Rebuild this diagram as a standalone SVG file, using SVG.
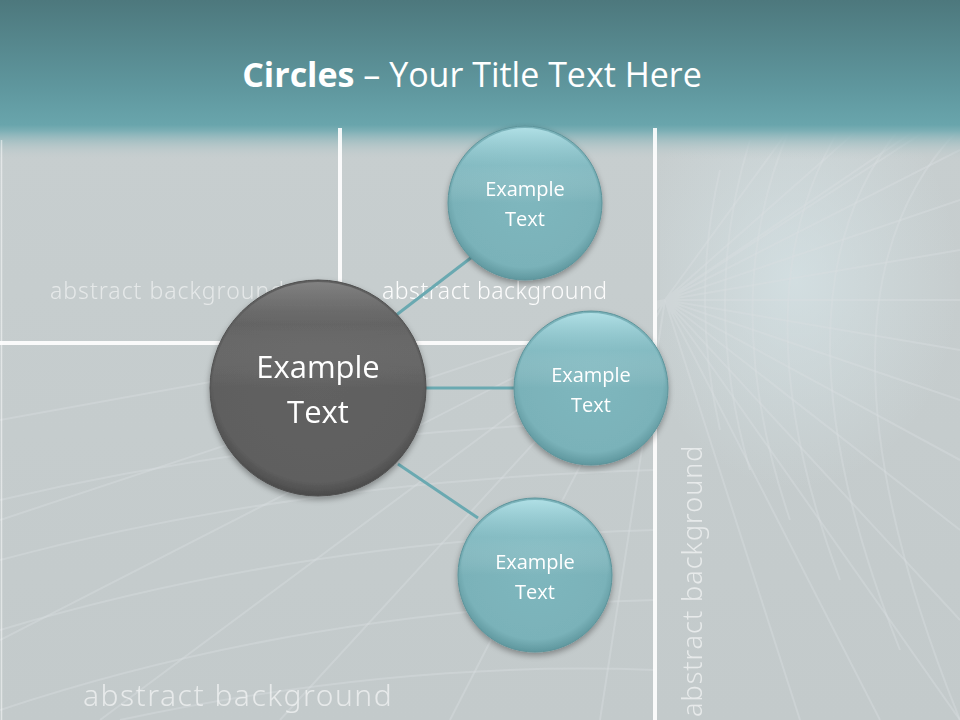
<svg xmlns="http://www.w3.org/2000/svg" width="960" height="720" viewBox="0 0 960 720">
<defs>
<linearGradient id="bg" x1="0" y1="0" x2="0" y2="1">
<stop offset="0" stop-color="#c8cfd0"/>
<stop offset="1" stop-color="#c3cacb"/>
</linearGradient>
<linearGradient id="hdr" x1="0" y1="0" x2="0" y2="1">
<stop offset="0" stop-color="#4d787d"/>
<stop offset="0.55" stop-color="#5f979e"/>
<stop offset="0.78" stop-color="#69a5ac"/>
<stop offset="0.82" stop-color="#7eb0b6"/>
<stop offset="1" stop-color="#c5cdce" stop-opacity="0"/>
</linearGradient>
<radialGradient id="teal" cx="0.5" cy="0.45" r="0.55">
<stop offset="0" stop-color="#7fb7be"/>
<stop offset="0.85" stop-color="#7ab2b9"/>
<stop offset="1" stop-color="#5f979e"/>
</radialGradient>
<linearGradient id="tealHi" x1="0" y1="0" x2="0" y2="1">
<stop offset="0" stop-color="#b5e4ea" stop-opacity="0.9"/>
<stop offset="0.25" stop-color="#9dd0d7" stop-opacity="0.3"/>
<stop offset="0.5" stop-color="#ffffff" stop-opacity="0"/>
</linearGradient>
<radialGradient id="dark" cx="0.5" cy="0.45" r="0.55">
<stop offset="0" stop-color="#626262"/>
<stop offset="0.88" stop-color="#5f5f5f"/>
<stop offset="1" stop-color="#4a4a4a"/>
</radialGradient>
<linearGradient id="darkHi" x1="0" y1="0" x2="0" y2="1">
<stop offset="0" stop-color="#8a8a8a" stop-opacity="0.8"/>
<stop offset="0.2" stop-color="#777" stop-opacity="0.2"/>
<stop offset="0.5" stop-color="#fff" stop-opacity="0"/>
</linearGradient>
<filter id="sh" x="-20%" y="-20%" width="140%" height="140%">
<feGaussianBlur in="SourceAlpha" stdDeviation="3"/>
<feOffset dy="3"/>
<feComponentTransfer><feFuncA type="linear" slope="0.35"/></feComponentTransfer>
<feMerge><feMergeNode/><feMergeNode in="SourceGraphic"/></feMerge>
</filter>
<clipPath id="gridClip"><rect x="0" y="345" width="960" height="375"/><rect x="655" y="128" width="305" height="592"/></clipPath>
<radialGradient id="glow" cx="0.45" cy="0.4" r="0.55">
<stop offset="0" stop-color="#dcecf0" stop-opacity="0.55"/>
<stop offset="1" stop-color="#dcecf0" stop-opacity="0"/>
</radialGradient>
</defs>
<style>
.abs{font-family:"Noto Sans","DejaVu Sans",sans-serif;font-weight:300;fill:#ffffff;}
.lbl{font-family:"Open Sans","Noto Sans",sans-serif;fill:#ffffff;text-anchor:middle;}
.wl{stroke:#ffffff;stroke-width:4;fill:none;opacity:0.9;}
.grid{stroke:#dadfe0;stroke-width:2;fill:none;opacity:0.4;}
.conn{stroke:#6aa9b1;stroke-width:3;fill:none;}
</style>

<rect width="960" height="720" fill="url(#bg)"/>
<rect x="660" y="128" width="300" height="380" fill="url(#glow)"/>

<g id="background-grid" clip-path="url(#gridClip)">
<path class="grid" d="M665 300 L960 150 M665 300 L960 200 M665 300 L960 250 M665 300 L960 300 M665 300 L960 350 M665 300 L960 400 M665 300 L960 460 M665 300 L960 530 M665 300 L960 620 M665 300 L960 720 M665 300 L880 720 M665 300 L800 720 M665 300 L960 100 M665 300 L930 128 M665 300 L860 128 M665 300 L790 128"/>
<path class="grid" d="M720 170 Q690 300 720 430 M750 140 Q700 300 750 470 M790 128 Q715 300 790 520 M840 128 Q735 300 840 580 M900 128 Q760 300 900 650 M960 128 Q790 300 960 720"/>
<path class="grid" d="M0 500 Q300 430 655 420 M0 560 Q300 480 655 470 M0 630 Q300 540 655 530 M0 710 Q300 610 655 600 M120 720 Q400 660 655 670"/>
<path class="grid" d="M665 300 L0 420 M665 300 L0 520 M665 300 L100 720 M665 300 L280 720 M665 300 L450 720 M665 300 L600 720 M665 300 L0 640"/>
</g>

<rect width="960" height="160" fill="url(#hdr)"/>

<g id="frame-lines">
<line class="wl" x1="340" y1="128" x2="340" y2="345"/>
<line class="wl" x1="0" y1="343" x2="655" y2="343"/>
<line class="wl" x1="655" y1="128" x2="655" y2="720"/>
<line x1="1.5" y1="140" x2="1.5" y2="720" stroke="#ffffff" stroke-width="1.5" opacity="0.5"/>
</g>

<g id="decor-text">
<text class="abs" x="50" y="299" font-size="23" opacity="0.55" letter-spacing="1">abstract background</text>
<text class="abs" x="382" y="299" font-size="23" opacity="0.95" font-weight="400" letter-spacing="0.5">abstract background</text>
<text class="abs" x="83" y="706" font-size="30" opacity="0.6" letter-spacing="1.5">abstract background</text>
<text class="abs" transform="translate(702 717) rotate(-90)" font-size="27" opacity="0.6" letter-spacing="1">abstract background</text>
</g>

<text id="title" x="472" y="87" text-anchor="middle" font-family="'Open Sans','Noto Sans',sans-serif" font-size="34" fill="#ffffff"><tspan font-weight="bold">Circles</tspan> – Your Title Text Here</text>

<g id="connectors">
<line class="conn" x1="395" y1="316" x2="472" y2="257"/>
<line class="conn" x1="425" y1="388" x2="516" y2="388"/>
<line class="conn" x1="398" y1="464" x2="478" y2="518"/>
</g>

<g id="node-center" filter="url(#sh)">
<circle cx="318" cy="388" r="108" fill="url(#dark)" stroke="#505050" stroke-width="1"/>
<circle cx="318" cy="388" r="106" fill="url(#darkHi)"/>
<text class="lbl" x="318" y="378" font-size="31">Example</text>
<text class="lbl" x="318" y="423" font-size="31">Text</text>
</g>

<g id="node-top" filter="url(#sh)">
<circle cx="525" cy="203" r="77" fill="url(#teal)" stroke="#5d949b" stroke-width="1"/>
<circle cx="525" cy="203" r="75" fill="url(#tealHi)"/>
<text class="lbl" x="525" y="196" font-size="20">Example</text>
<text class="lbl" x="525" y="226" font-size="20">Text</text>
</g>

<g id="node-middle" filter="url(#sh)">
<circle cx="591" cy="388" r="77" fill="url(#teal)" stroke="#5d949b" stroke-width="1"/>
<circle cx="591" cy="388" r="75" fill="url(#tealHi)"/>
<text class="lbl" x="591" y="382" font-size="20">Example</text>
<text class="lbl" x="591" y="412" font-size="20">Text</text>
</g>

<g id="node-bottom" filter="url(#sh)">
<circle cx="535" cy="575" r="77" fill="url(#teal)" stroke="#5d949b" stroke-width="1"/>
<circle cx="535" cy="575" r="75" fill="url(#tealHi)"/>
<text class="lbl" x="535" y="569" font-size="20">Example</text>
<text class="lbl" x="535" y="599" font-size="20">Text</text>
</g>
</svg>
